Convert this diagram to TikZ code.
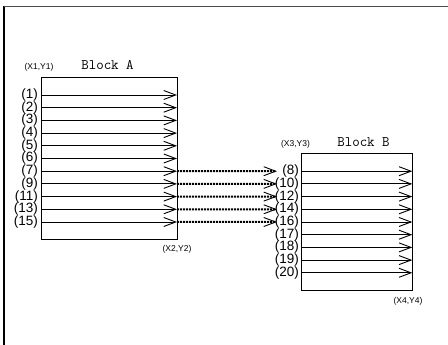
\documentclass[tikz,border=0pt]{standalone}
\usepackage{fontspec}
\setmainfont{Liberation Sans}
\usetikzlibrary{arrows.meta}
\tikzset{
  blk/.style={draw, line width=1pt, inner sep=0pt, outer sep=0pt, anchor=north west},
  sig/.style={line width=0.9pt, -{Straight Barb[length=12pt,width=9pt,line width=0.9pt]}},
  link/.style={line width=2pt, dash pattern=on 2pt off 1pt, -{Straight Barb[length=12pt,width=9pt,line width=0.9pt]}},
  lbl/.style={inner sep=0pt, anchor=east, font=\fontsize{13.5}{13.5}\selectfont},
  coordlbl/.style={inner sep=0pt, font=\fontsize{8.5}{9}\selectfont},
  title/.style={inner sep=0pt, font=\ttfamily\fontsize{14.5}{14.5}\selectfont},
  frame/.style={line width=1.3pt}
}
\begin{document}
\begin{tikzpicture}[x=1pt,y=-1pt]
\useasboundingbox (0,0) rectangle (448,345);
\draw[frame, black] (4,345) -- (4,6.5);
\draw[frame, black!70] (4,6.5) -- (448,6.5);
% Block A
\node[blk, minimum width=136pt, minimum height=161.7pt] (A) at (41,77.3) {};
\node[title] (tA) at (107.5,65) {Block A};
\node[coordlbl] (cA1) at (39,67.5) {(X1,Y1)};
\node[coordlbl] (cA2) at (177,249) {(X2,Y2)};
\foreach \l [count=\i from 0] in {1,2,3,4,5,6,7,9,11,13,15} {
  \path (41,95+12.7*\i) coordinate (as\i) (177,95+12.7*\i) coordinate (ae\i);
  \node[lbl] (al\i) at ([xshift=-3pt]as\i) {(\l)};
  \draw[sig] (as\i) -- (ae\i);
}
% Block B
\node[blk, minimum width=111.3pt, minimum height=136.7pt] (B) at (301,153.3) {};
\node[title] (tB) at (363.5,141.7) {Block B};
\node[coordlbl] (cB3) at (295.5,144) {(X3,Y3)};
\node[coordlbl] (cB4) at (408,301.7) {(X4,Y4)};
\foreach \l [count=\i from 0] in {8,10,12,14,16,17,18,19,20} {
  \path (301,171.2+12.7*\i) coordinate (bs\i) (412.3,171.2+12.7*\i) coordinate (be\i)
        (277,171.2+12.7*\i) coordinate (bt\i);
  \node[lbl] (bl\i) at ([xshift=-2pt]bs\i) {(\l)};
  \draw[sig] (bs\i) -- (be\i);
}
% links
\foreach \a/\b in {6/0,7/1,8/2,9/3,10/4} {
  \draw[link] (ae\a) -- (bt\b);
}
\end{tikzpicture}
\end{document}
